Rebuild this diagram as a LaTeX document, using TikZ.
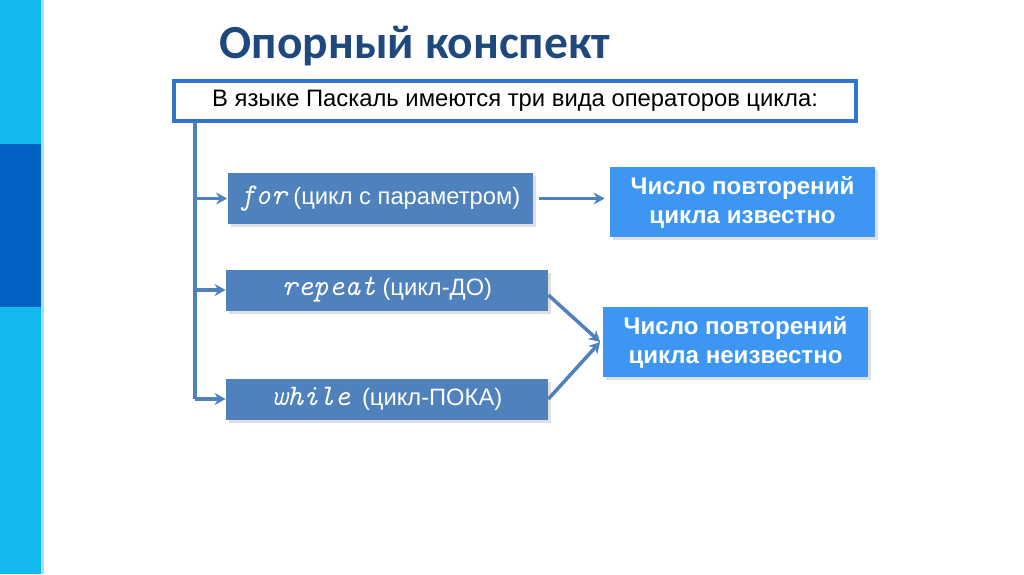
\documentclass[tikz,border=0pt]{standalone}
\usepackage{fontspec}
\setmainfont{Liberation Sans}
\newfontfamily\titlefont{Carlito}
\usetikzlibrary{arrows.meta,positioning,shadows}
\definecolor{sky}{RGB}{18,185,238}
\definecolor{navy}{RGB}{4,98,196}
\definecolor{slate}{RGB}{79,129,189}
\definecolor{bright}{RGB}{60,150,242}
\definecolor{frame}{RGB}{46,117,203}
\definecolor{heading}{RGB}{31,73,125}
\newcommand\kwd[1]{{\ttfamily\itshape\fontsize{17}{17}\selectfont\addfontfeatures{FakeBold=1.2}#1}}
\tikzset{
  >={Stealth[length=2.2mm,width=2.4mm]},
  loop box/.style={fill=slate,text=white,minimum height=#1,
    inner sep=0pt,font=\fontsize{13.5}{15}\selectfont,
    drop shadow={opacity=0.25,shadow xshift=0.6mm,shadow yshift=-0.6mm}},
  loop box/.default=8.2mm,
  count box/.style={fill=bright,text=white,align=center,inner sep=0pt,
    minimum width=53mm,minimum height=14mm,
    font=\fontsize{13.7}{16.5}\selectfont\bfseries,
    drop shadow={opacity=0.25,shadow xshift=0.6mm,shadow yshift=-0.6mm}},
  flow/.style={->,line width=2pt,draw=slate},
}
\begin{document}
\begin{tikzpicture}
  \useasboundingbox (0,0) rectangle (20.48,-11.48);
  % side strip
  \fill[sky] (0,0) rectangle (0.82,-2.88);
  \fill[navy] (0,-2.88) rectangle (0.82,-6.14);
  \fill[sky] (0,-6.14) rectangle (0.82,-11.48);
  \fill[sky!40] (0.82,0) rectangle (0.88,-11.48);

  \node[font=\titlefont\fontsize{27}{30}\selectfont\bfseries,text=heading] (title) at (8.3,-0.92) {Опорный конспект};

  \node[draw=frame,line width=1.8pt,minimum width=13.64cm,minimum height=0.8cm,
    font=\fontsize{13.55}{15}\selectfont] (head) at (10.3,-2.02)
    {В языке Паскаль имеются три вида операторов цикла:};

  \node[loop box=10.2mm,minimum width=61mm] (for) at (7.6,-3.97)
    {\kwd{for} (цикл с параметром)};
  \node[loop box,minimum width=64.4mm] (repeat) at (7.74,-5.8)
    {\kwd{repeat} (цикл-ДО)};
  \node[loop box,minimum width=64.4mm] (while) at (7.74,-7.98)
    {\kwd{while}\enspace (цикл-ПОКА)};

  \node[count box] (known) at (14.85,-4.04) {Число повторений\\цикла известно};
  \node[count box] (unknown) at (14.71,-6.84) {Число повторений\\цикла неизвестно};

  % tree
  \coordinate (top) at (3.9,-2.44);
  \coordinate (bot) at (3.9,-7.98);
  \draw[line width=2pt,slate] (top) -- (bot);
  \draw[flow] (top |- for.west) -- (for.west);
  \draw[flow] (top |- repeat.west) -- (repeat.west);
  \draw[flow] (bot) -- (while.west);

  \draw[flow] ([xshift=1.3mm]for.east) -- ([xshift=-1mm]known.west |- for.east);
  \draw[flow] ([yshift=-1mm]repeat.east) -- ([xshift=-0.5mm]unknown.west);
  \draw[flow] (while.east) -- ([xshift=-0.5mm]unknown.west);
\end{tikzpicture}
\end{document}
